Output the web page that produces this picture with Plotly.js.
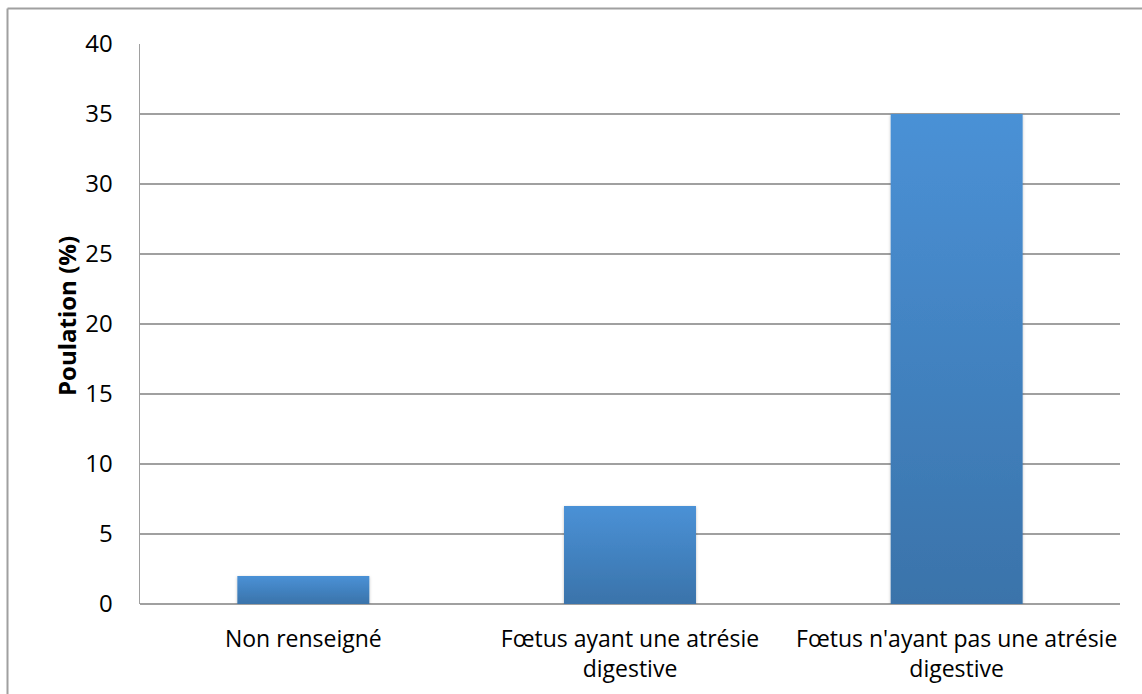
<!DOCTYPE html>
<html>
<head>
<meta charset="utf-8">
<script src="https://cdn.plot.ly/plotly-3.0.1.min.js"></script>
<style>
html,body{margin:0;padding:0;background:#fff;}
#chart{width:1142px;height:694px;}
</style>
</head>
<body>
<div id="chart"></div>
<script>
const categories = ["Non renseigné", "Fœtus ayant une atrésie<br>digestive", "Fœtus n'ayant pas une atrésie<br>digestive"];
const values = [2, 7, 35];
const yTicks = [0, 5, 10, 15, 20, 25, 30, 35, 40];
const yTitle = "Poulation (%)";

const W = 1142, H = 694;
const L = 140, R = 22, T = 44, B = 90;
const pw = W - L - R, ph = H - T - B;
function px(x){ return (x - L) / pw; }
function py(y){ return 1 - (y - T) / ph; }
const FONT = '"Open Sans", sans-serif';

const trace = {
  type: 'bar',
  x: categories,
  y: values,
  width: 0.404,
  marker: {color: '#4383c4', line: {width: 0}},
  hoverinfo: 'x+y'
};

const layout = {
  width: W, height: H,
  margin: {l: L, r: R, t: T, b: B, pad: 0},
  paper_bgcolor: '#ffffff',
  plot_bgcolor: '#ffffff',
  font: {family: FONT, color: '#000', size: 20},
  showlegend: false,
  xaxis: {
    type: 'category',
    showgrid: false,
    showline: false,
    zeroline: false,
    ticks: 'outside', ticklen: 14, tickcolor: 'rgba(0,0,0,0)',
    tickfont: {size: 23, family: FONT},
    fixedrange: true
  },
  yaxis: {
    range: [0, 40],
    tickvals: yTicks,
    ticktext: yTicks.map(String),
    showgrid: true, gridcolor: '#a0a0a0', gridwidth: 1.5,
    zeroline: true, zerolinecolor: '#a0a0a0', zerolinewidth: 1.5,
    showline: true, linecolor: '#a0a0a0', linewidth: 1.5,
    ticks: 'outside', ticklen: 21, tickcolor: 'rgba(0,0,0,0)',
    tickfont: {size: 24, family: FONT},
    fixedrange: true
  },
  annotations: [{
    text: '<b>' + yTitle + '</b>',
    xref: 'paper', yref: 'paper',
    x: px(66), y: py(316),
    xanchor: 'center', yanchor: 'middle',
    textangle: -90, showarrow: false,
    font: {size: 24, family: FONT, color: '#000'}
  }],
  shapes: [
    {type: 'line', xref: 'paper', yref: 'paper', layer: 'below',
     x0: px(7.5), x1: px(1142), y0: py(8.5), y1: py(8.5),
     line: {color: '#a0a0a0', width: 2}},
    {type: 'line', xref: 'paper', yref: 'paper', layer: 'below',
     x0: px(7.5), x1: px(7.5), y0: py(8.5), y1: py(694),
     line: {color: '#a0a0a0', width: 2}}
  ]
};

const gd = document.getElementById('chart');
Plotly.newPlot(gd, [trace], layout, {displayModeBar: false, staticPlot: true}).then(applyGradient);

function applyGradient(){
  const svg = gd.querySelector('svg.main-svg');
  if (!svg) return;
  const ns = 'http://www.w3.org/2000/svg';
  let defs = svg.querySelector('defs');
  if (!defs){ defs = document.createElementNS(ns, 'defs'); svg.insertBefore(defs, svg.firstChild); }
  const g = document.createElementNS(ns, 'linearGradient');
  g.setAttribute('id', 'barGrad');
  g.setAttribute('x1', '0'); g.setAttribute('y1', '0');
  g.setAttribute('x2', '0'); g.setAttribute('y2', '1');
  const s1 = document.createElementNS(ns, 'stop'); s1.setAttribute('offset', '0'); s1.setAttribute('stop-color', '#4a91d6');
  const s2 = document.createElementNS(ns, 'stop'); s2.setAttribute('offset', '1'); s2.setAttribute('stop-color', '#3a73aa');
  g.appendChild(s1); g.appendChild(s2);
  defs.appendChild(g);
  const f = document.createElementNS(ns, 'filter');
  f.setAttribute('id', 'barShadow');
  f.setAttribute('x', '-10%'); f.setAttribute('y', '-10%'); f.setAttribute('width', '120%'); f.setAttribute('height', '120%');
  const ds = document.createElementNS(ns, 'feDropShadow');
  ds.setAttribute('dx', '0'); ds.setAttribute('dy', '1'); ds.setAttribute('stdDeviation', '1.5');
  ds.setAttribute('flood-color', '#000'); ds.setAttribute('flood-opacity', '0.25');
  f.appendChild(ds);
  defs.appendChild(f);
  gd.querySelectorAll('.bars .point path').forEach(p => {
    p.style.fill = 'url(#barGrad)';
    p.setAttribute('filter', 'url(#barShadow)');
  });
}
</script>
</body>
</html>
